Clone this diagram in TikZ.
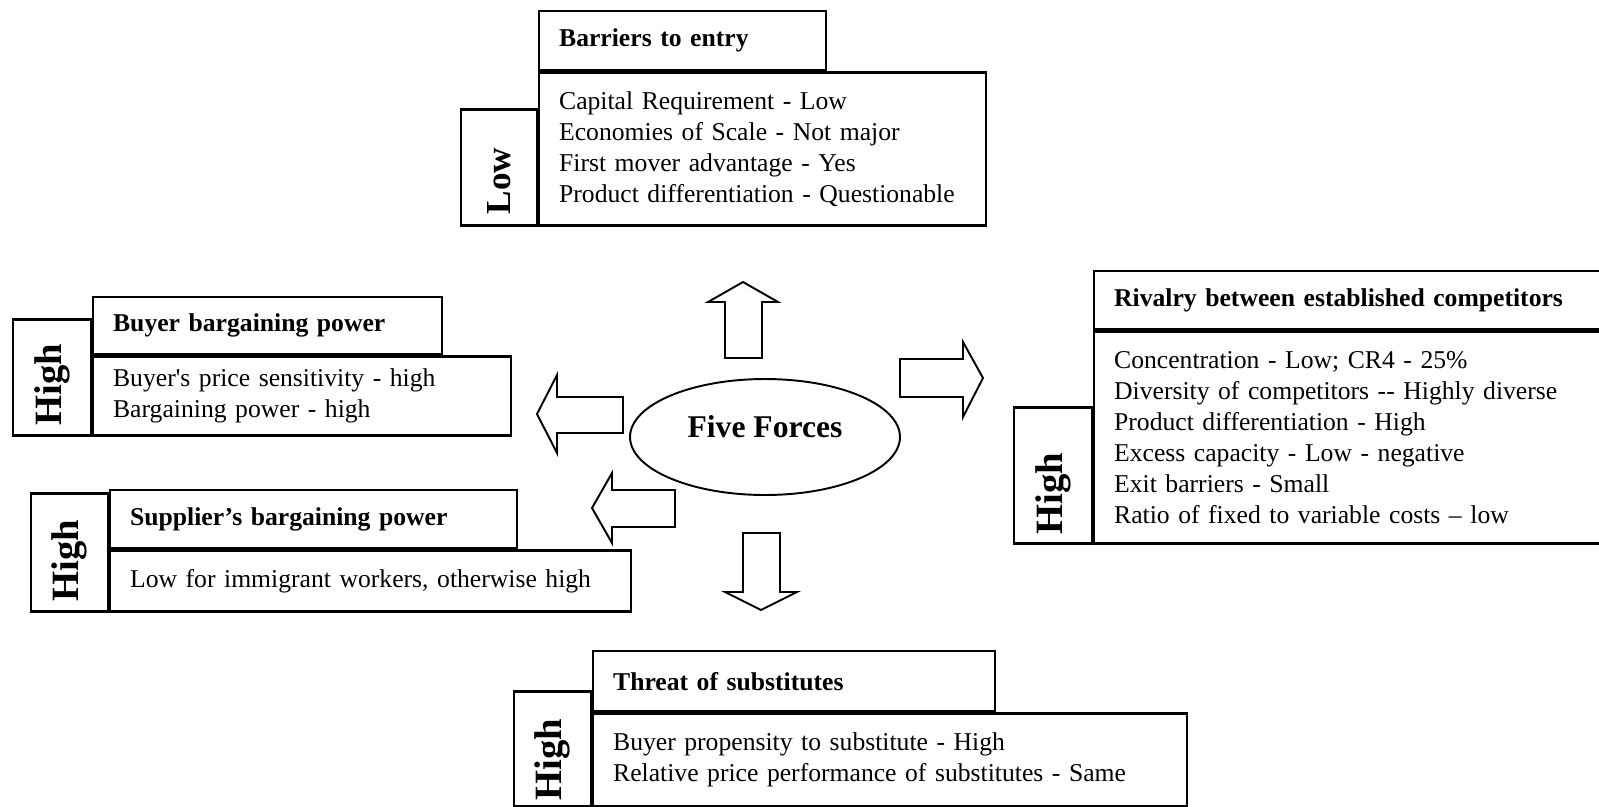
\documentclass[tikz,border=0pt]{standalone}
\usepackage{fontspec}
\setmainfont{Liberation Serif}
\usetikzlibrary{shapes.geometric}

\begin{document}
\begin{tikzpicture}[x=0.02cm, y=-0.02cm,
  box/.style={draw, line width=1.3pt, anchor=north west, align=left, inner xsep=0.4cm, inner ysep=0pt, font=\fontsize{14.6}{17.6}\selectfont},
  head/.style={box, font=\fontsize{14.6}{17.6}\selectfont\bfseries},
  rate/.style={draw, line width=1.3pt, anchor=south east, inner sep=0pt},
  ratetxt/.style={rotate=90, anchor=west, inner sep=0pt, font=\fontsize{22}{26}\selectfont\bfseries},
  fat/.style={draw, line width=1.1pt, line join=miter}]
  \useasboundingbox (0,0) rectangle (1599,806);

  % centre
  \node[ellipse, draw, line width=1.1pt, minimum width=5.4cm, minimum height=2.32cm, inner sep=0pt, text depth=0.4cm,
        font=\fontsize{18}{22}\selectfont\bfseries] (forces) at (765,437) {Five Forces};

  % barriers to entry
  \node[head, minimum width=5.74cm, minimum height=1.18cm, text width=4.94cm] (bartitle) at (538,10) {Barriers to entry};
  \node[box, minimum width=8.94cm, minimum height=3.06cm, text width=8.14cm] (barbody) at (bartitle.south west)
    {Capital Requirement - Low\\Economies of Scale - Not major\\First mover advantage - Yes\\Product differentiation - Questionable};
  \node[rate, minimum width=1.52cm, minimum height=2.32cm] (barrate) at (barbody.south west) {};
  \node[ratetxt, font=\fontsize{20}{24}\selectfont\bfseries] (barlow) at ([yshift=0.24cm]barrate.south) {Low};

  % buyers
  \node[head, minimum width=6.98cm, minimum height=1.14cm, text width=6.18cm] (buytitle) at (92,296) {Buyer bargaining power};
  \node[box, minimum width=8.36cm, minimum height=1.58cm, text width=7.56cm] (buybody) at (buytitle.south west)
    {Buyer\textquotesingle s price sensitivity - high\\Bargaining power - high};
  \node[rate, minimum width=1.56cm, minimum height=2.32cm] (buyrate) at (buybody.south west) {};
  \node[ratetxt] (buyhigh) at ([yshift=0.22cm]buyrate.south) {High};

  % suppliers
  \node[head, minimum width=8.14cm, minimum height=1.16cm, text width=7.34cm] (suptitle) at (109,489) {Supplier’s bargaining power};
  \node[box, minimum width=10.42cm, minimum height=1.22cm, text width=9.62cm] (supbody) at (suptitle.south west)
    {Low for immigrant workers, otherwise high};
  \node[rate, minimum width=1.54cm, minimum height=2.36cm] (suprate) at (supbody.south west) {};
  \node[ratetxt] (suphigh) at ([yshift=0.22cm]suprate.south) {High};

  % rivalry
  \node[head, minimum width=10.6cm, minimum height=1.16cm, text width=9.8cm] (rivtitle) at (1093,270) {Rivalry between established competitors};
  \node[box, minimum width=10.6cm, minimum height=4.24cm, text width=9.8cm] (rivbody) at (rivtitle.south west)
    {Concentration - Low; CR4 - 25\%\\Diversity of competitors -{}- Highly diverse\\Product differentiation - High\\
     Excess capacity - Low - negative\\Exit barriers - Small\\Ratio of fixed to variable costs -- low};
  \node[rate, minimum width=1.56cm, minimum height=2.72cm] (rivrate) at (rivbody.south west) {};
  \node[ratetxt] (rivhigh) at ([yshift=0.2cm]rivrate.south) {High};

  % substitutes
  \node[head, minimum width=8.04cm, minimum height=1.2cm, text width=7.24cm] (thrtitle) at (592,650) {Threat of substitutes};
  \node[box, minimum width=11.88cm, minimum height=1.86cm, text width=11.08cm] (thrbody) at (thrtitle.south west)
    {Buyer propensity to substitute - High\\Relative price performance of substitutes - Same};
  \node[rate, minimum width=1.54cm, minimum height=2.3cm] (thrrate) at (thrbody.south west) {};
  \node[ratetxt] (thrhigh) at ([yshift=0.14cm]thrrate.south) {High};

  % block arrows
  \draw[fat] (725,358) -- (725,302) -- (708,302) -- (743,282) -- (778,302) -- (762,302) -- (762,358) -- cycle;
  \draw[fat] (900,359) -- (963,359) -- (963,342) -- (983,378) -- (963,417) -- (963,397) -- (900,397) -- cycle;
  \draw[fat] (623,397) -- (557,397) -- (557,375) -- (537,414) -- (557,453) -- (557,433) -- (623,433) -- cycle;
  \draw[fat] (675,490) -- (612,490) -- (612,473) -- (592,508) -- (612,543) -- (612,527) -- (675,527) -- cycle;
  \draw[fat] (743,533) -- (780,533) -- (780,592) -- (797,592) -- (761,610) -- (725,592) -- (743,592) -- cycle;
\end{tikzpicture}
\end{document}
